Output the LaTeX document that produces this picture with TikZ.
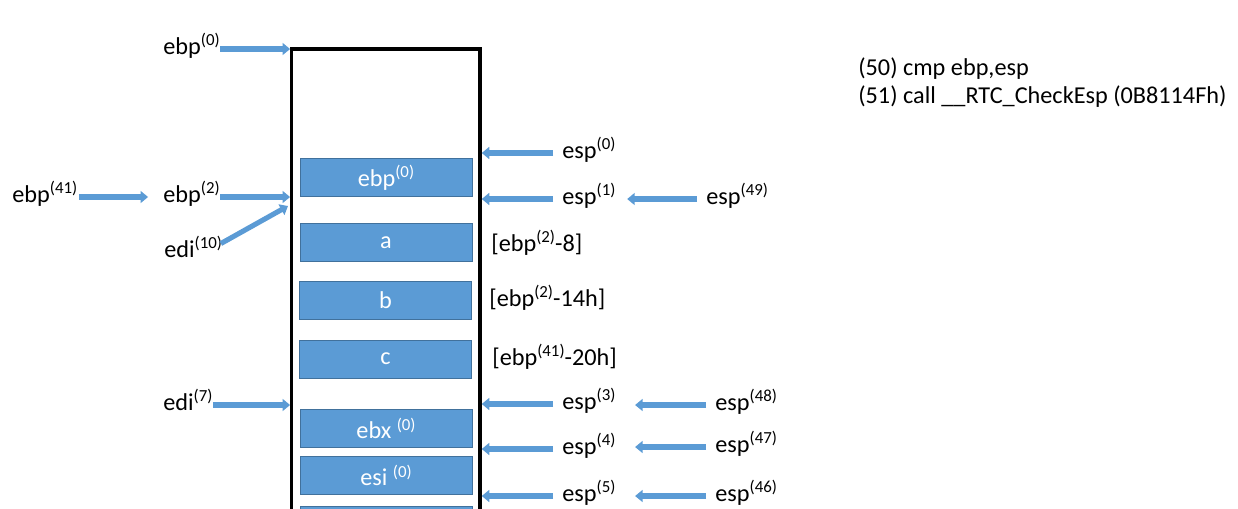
\documentclass[tikz,border=0pt]{standalone}
\usepackage{fontspec}
\setmainfont{Carlito}
\usetikzlibrary{arrows.meta}
\definecolor{slotblue}{HTML}{5B9BD5}
\definecolor{slotedge}{HTML}{41719C}
\newcommand{\regsup}[1]{\raisebox{0.36em}{\fontsize{9.6}{10}\selectfont(#1)}}
\newcommand{\reg}[2]{#1\regsup{#2}}

\begin{document}
\begin{tikzpicture}[
    x=0.02cm,y=-0.02cm,
    font=\fontsize{13.8}{16}\selectfont,
    lbl/.style={anchor=west,inner sep=0pt,text height=0.8em,text depth=0.22em},
    note/.style={anchor=base west,inner sep=0pt},
    slot/.style={draw=slotedge,fill=slotblue,text=white,minimum width=3.44cm,minimum height=0.76cm,inner sep=0pt},
    ptr/.style={-{Triangle[length=4.3pt,width=6.8pt]},line width=2.9pt,draw=slotblue},
  ]
    \useasboundingbox (0,0) rectangle (1238,508);
    \clip (0,0) rectangle (1238,508);

    % stack frame
    \coordinate (stl) at (291.5,49);
    \coordinate (str) at (480,49);
    \draw[line width=2.1pt] (291.5,520) -- (stl) -- (str) -- (480,520);

    \node[slot] (sebp) at (386,177.5) {\reg{ebp}{0}};
    \node[slot] (sa)   at (386,242.5) {a};
    \node[slot] (sb)   at (385.5,300.5) {b};
    \node[slot] (sc)   at (385.5,359) {c};
    \node[slot] (sebx) at (386,428.5) {ebx \regsup{0}};
    \node[slot] (sesi) at (386,475.5) {esi \regsup{0}};
    \node[slot] (snext) at (386,525) {};

    % left side
    \node[lbl] (ebp0)  at (163,49)  {\reg{ebp}{0}};
    \node[lbl] (ebp41) at (12,197)  {\reg{ebp}{41}};
    \node[lbl] (ebp2)  at (163,197) {\reg{ebp}{2}};
    \node[lbl] (edi10) at (164,252) {\reg{edi}{10}};
    \node[lbl] (edi7)  at (163,405) {\reg{edi}{7}};
    \coordinate (ediin) at (288,206);

    % right side
    \node[lbl] (esp0)  at (562,153) {\reg{esp}{0}};
    \node[lbl] (esp1)  at (562,199) {\reg{esp}{1}};
    \node[lbl] (esp49) at (706,199) {\reg{esp}{49}};
    \node[lbl] (offa)  at (491,246) {[\reg{ebp}{2}-8]};
    \node[lbl] (offb)  at (489,301) {[\reg{ebp}{2}-14h]};
    \node[lbl] (offc)  at (492,360) {[\reg{ebp}{41}-20h]};
    \node[lbl] (esp3)  at (562,404) {\reg{esp}{3}};
    \node[lbl] (esp48) at (715,405) {\reg{esp}{48}};
    \node[lbl] (esp4)  at (562,449) {\reg{esp}{4}};
    \node[lbl] (esp47) at (715,447) {\reg{esp}{47}};
    \node[lbl] (esp5)  at (562,496) {\reg{esp}{5}};
    \node[lbl] (esp46) at (715,496) {\reg{esp}{46}};

    \node[note] (cmp)  at (858,75)  {(50) cmp ebp,esp};
    \node[note] (call) at (858,103) {(51) call \_\_RTC\_CheckEsp (0B8114Fh)};

    \draw[ptr,shorten >=0.8pt] (ebp0.east) -- (ebp0.east -| stl);
    \draw[ptr,shorten <=1pt,shorten >=8.5pt] (ebp41.east) -- (ebp2.west);
    \draw[ptr,shorten >=0.8pt] (ebp2.east) -- (ebp2.east -| stl);
    \draw[ptr,shorten <=-1pt] (edi10.north east) -- (ediin);
    \draw[ptr,shorten >=0.8pt] (edi7.east) -- (edi7.east -| stl);

    \draw[ptr,shorten <=5pt,shorten >=1pt] (esp0.west) -- (esp0.west -| str);
    \draw[ptr,shorten <=5pt,shorten >=1pt] (esp1.west) -- (esp1.west -| str);
    \draw[ptr,shorten <=5pt,shorten >=6.5pt] (esp49.west) -- (esp1.east);
    \draw[ptr,shorten <=5pt,shorten >=1pt] (esp3.west) -- (esp3.west -| str);
    \draw[ptr,shorten <=5pt,shorten >=11pt] (esp48.west) -- (esp48.west -| esp3.east);
    \draw[ptr,shorten <=5pt,shorten >=1pt] (esp4.west) -- (esp4.west -| str);
    \draw[ptr,shorten <=5pt,shorten >=11pt] (esp47.west) -- (esp47.west -| esp4.east);
    \draw[ptr,shorten <=5pt,shorten >=1pt] (esp5.west) -- (esp5.west -| str);
    \draw[ptr,shorten <=5pt,shorten >=11pt] (esp46.west) -- (esp5.east);
\end{tikzpicture}
\end{document}
